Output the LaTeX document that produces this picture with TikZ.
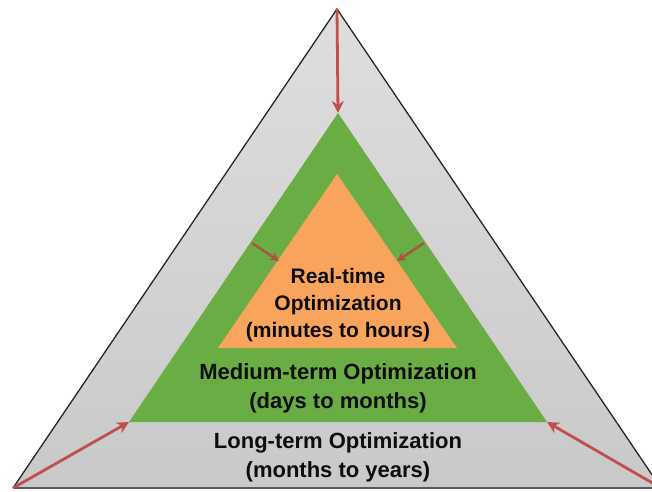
\documentclass[tikz,border=0pt]{standalone}
\usepackage{fontspec}
\setmainfont{Liberation Sans}
\usetikzlibrary{arrows.meta}
\definecolor{grayTop}{HTML}{DEDEDE}
\definecolor{grayBot}{HTML}{C9C9C9}
\definecolor{greenfill}{HTML}{6BAD45}
\definecolor{orangefill}{HTML}{F9A45D}
\definecolor{arrowred}{HTML}{C0504D}
\definecolor{arrowbrown}{HTML}{A9553F}
\tikzset{
  outerarrow/.style={draw=arrowred, line width=2.8pt, -{Stealth[length=12pt,width=12pt]}},
  innerarrow/.style={draw=arrowbrown, line width=2.4pt, -{Stealth[length=9pt,width=9pt]}},
  bigtext/.style={font=\bfseries\fontsize{22}{29}\selectfont, align=center, text=black!95, inner sep=0pt},
  smalltext/.style={font=\bfseries\fontsize{21}{27}\selectfont, align=center, text=black!95, inner sep=0pt}
}
\begin{document}
\begin{tikzpicture}[x=1pt,y=-1pt]
\useasboundingbox (0,0) rectangle (652,491);
\clip (0,0) rectangle (652,491);
% vertices
\coordinate (OA) at (337,9);
\coordinate (OL) at (13,488);
\coordinate (OR) at (661,488);
\coordinate (GA) at (338,113);
\coordinate (GL) at (129,422);
\coordinate (GR) at (547,422);
\coordinate (RA) at (337,174);
\coordinate (RL) at (218,348);
\coordinate (RR) at (457,348);
\coordinate (IL0) at (252,243);
\coordinate (IL1) at (279,261);
\coordinate (IR0) at (424,243);
\coordinate (IR1) at (397,261);
% outer triangle
\shade[top color=grayTop, bottom color=grayBot] (OA) -- (OL) -- (OR) -- cycle;
\draw[black!85, line width=1.3pt, line join=miter] (OL) -- (OA) -- (OR);
\draw[black!65, line width=2pt] (OL) -- (OR);
% green triangle
\fill[greenfill] (GA) -- (GL) -- (GR) -- cycle;
% orange triangle
\fill[orangefill] (RA) -- (RL) -- (RR) -- cycle;
% arrows
\draw[outerarrow] (OA) -- (GA);
\draw[outerarrow] (OL) -- (GL);
\draw[outerarrow] (OR) -- (GR);
\draw[innerarrow] (IL0) -- (IL1);
\draw[innerarrow] (IR0) -- (IR1);
% texts
\node[smalltext] (rt) at (338,305) {Real-time\\Optimization\\(minutes to hours)};
\node[bigtext] (mt) at (338,388) {Medium-term Optimization\\(days to months)};
\node[bigtext] (lt) at (338,457) {Long-term Optimization\\(months to years)};
\end{tikzpicture}
\end{document}
